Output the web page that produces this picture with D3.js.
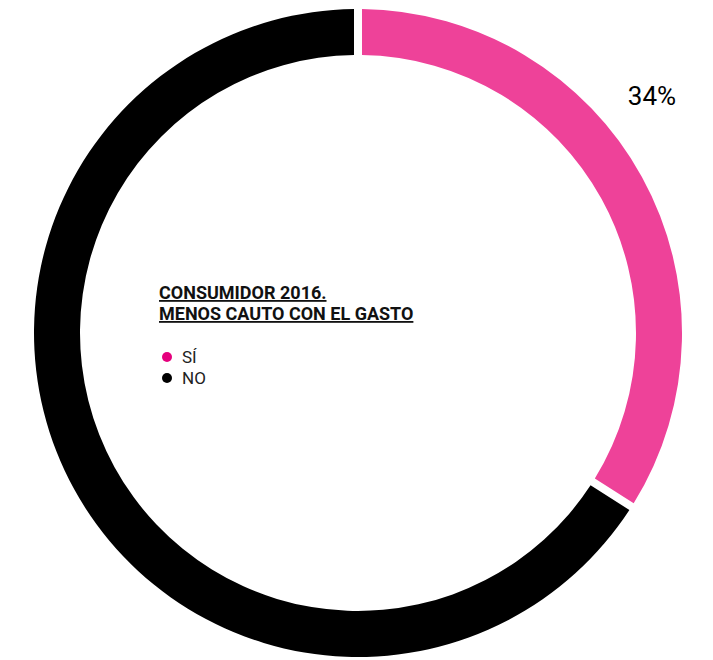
<html>
    <head>
        <style>
            body { margin: 0; background: #fff; }
            text { font-family: Roboto, "Liberation Sans", Arial, sans-serif; }
        </style>
    </head>
    <body>

        <svg id="content"></svg>

        <script src="https://cdn.jsdelivr.net/npm/d3@7"></script>
        <script>

            let categories = ["SÍ", "NO"];
            let values = [34, 66];
            let colors = ["#ee4299", "#000000"];
            let legendColors = ["#e5007d", "#000000"];
            let titleLines = ["CONSUMIDOR 2016.", "MENOS CAUTO CON EL GASTO"];

            let bodyWidth = 713;
            let bodyHeight = 660;

            let body = d3.select("#content")
                            .attr("width", bodyWidth)
                            .attr("height", bodyHeight);

            let cx = 358, cy = 333;
            let outerR = 324, innerR = 278;

            let pie = d3.pie()
                        .sort(null)
                        .value(d => d);

            let arcs = pie(values);

            let arc = d3.arc()
                        .innerRadius(innerR)
                        .outerRadius(outerR)
                        .padRadius(outerR)
                        .padAngle(8 / outerR);

            let g = body.append("g")
                        .attr("transform", `translate(${cx}, ${cy})`);

            g.selectAll("path")
                .data(arcs)
                .enter()
                .append("path")
                .attr("d", arc)
                .attr("fill", (d, i) => colors[i]);

            // percentage label, outside the pink slice
            let first = arcs[0];
            let labelAngle = first.startAngle + (first.endAngle - first.startAngle) * 0.42;
            let labelR = 380;
            g.append("text")
                .attr("x", labelR * Math.sin(labelAngle) - 3)
                .attr("y", -labelR * Math.cos(labelAngle))
                .attr("text-anchor", "middle")
                .attr("dominant-baseline", "central")
                .attr("font-family", "'Liberation Sans', Arial, sans-serif")
                .attr("font-size", 26)
                .attr("fill", "#000")
                .text(values[0] + "%");

            // title
            let title = body.append("g")
                            .attr("transform", "translate(159, 0)");

            title.selectAll("text")
                .data(titleLines)
                .enter()
                .append("text")
                .attr("x", 0)
                .attr("y", (d, i) => 299 + i * 21)
                .attr("font-size", 18)
                .attr("font-weight", "bold")
                .attr("letter-spacing", 0)
                .style("text-decoration", "underline")
                .attr("fill", "#111")
                .text(d => d);

            // legend
            let legend = body.append("g")
                            .attr("transform", "translate(167, 357)")
                            .selectAll("g")
                            .data(categories)
                            .enter()
                            .append("g")
                            .attr("transform", (d, i) => `translate(0, ${i * 21})`);

            legend.append("circle")
                .attr("r", 5)
                .attr("fill", (d, i) => legendColors[i]);

            legend.append("text")
                .attr("x", 15)
                .attr("y", 5.5)
                .attr("font-size", 17)
                .attr("fill", "#222")
                .text(d => d);

        </script>
    </body>
</html>
